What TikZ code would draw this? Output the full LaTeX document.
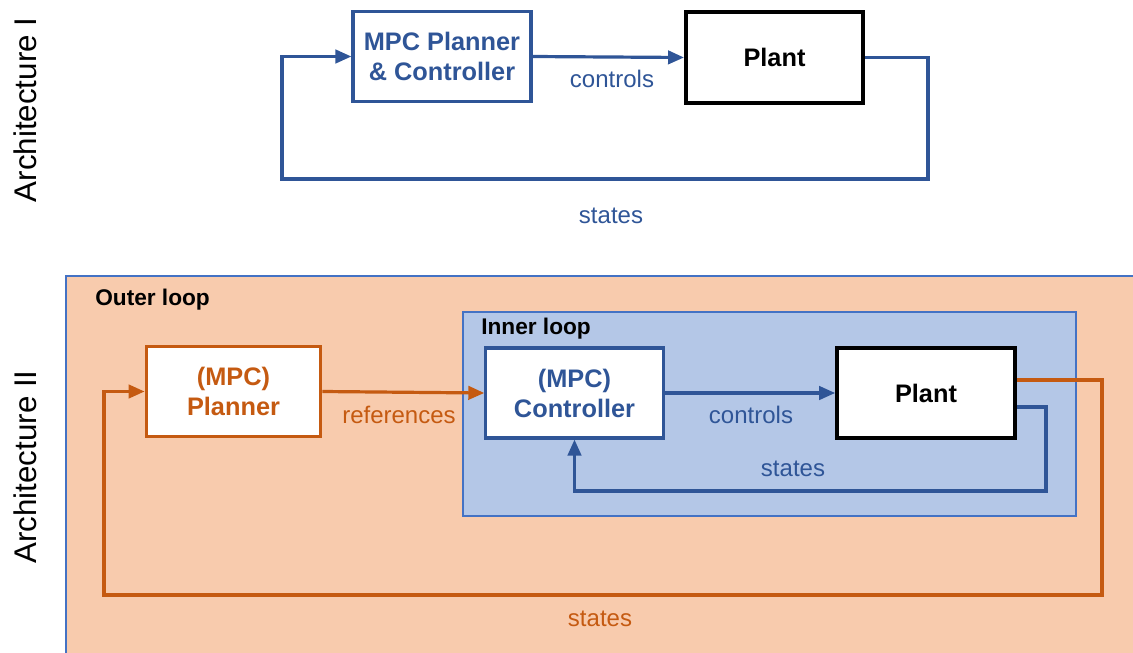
\documentclass[tikz,border=0pt]{standalone}
\usepackage{fontspec}
\setmainfont{Liberation Sans}
\usetikzlibrary{arrows.meta}
\definecolor{cblue}{HTML}{2F5597}
\definecolor{corange}{HTML}{C55A11}
\definecolor{outerfill}{HTML}{F8CBAD}
\definecolor{innerfill}{HTML}{B4C7E7}
\definecolor{frameblue}{HTML}{4472C4}
\begin{document}
\begin{tikzpicture}[x=0.75pt,y=-0.75pt,
  blockbase/.style={draw, fill=white, align=center, inner sep=0pt,
    font=\bfseries\fontsize{19}{22.5}\selectfont},
  blueblock/.style={blockbase, draw=cblue, text=cblue, line width=2.3pt},
  orangeblock/.style={blockbase, draw=corange, text=corange, line width=2.3pt},
  plantblock/.style={blockbase, draw=black, text=black, line width=2.7pt},
  lbl/.style={font=\fontsize{18}{20}\selectfont, inner sep=0pt},
  looptitle/.style={font=\bfseries\fontsize{17}{19}\selectfont, inner sep=0pt},
  archlabel/.style={font=\fontsize{23.5}{26}\selectfont, rotate=90, inner sep=0pt},
  flow/.style={line width=2.4pt, -{Triangle[length=12pt,width=10pt]}},
  flowplain/.style={line width=2.4pt}
]
\useasboundingbox (0,0) rectangle (1133,653);

% ---------- Architecture I ----------
\node[archlabel] (archI) at (25,110) {Architecture I};
\node[blueblock, minimum width=133.5pt, minimum height=68pt] (mpc1) at (442,56.5) {MPC Planner\\\& Controller};
\node[plantblock, minimum width=133pt, minimum height=68pt] (plant1) at (774.5,57.5) {Plant};
\node[lbl, text=cblue] (ctl1) at (612,79) {controls};
\node[lbl, text=cblue] (st1) at (611,216) {states};
\coordinate (t1) at (928,179);
\coordinate (t2) at (282,179);
\draw[flow, cblue] (mpc1.east) -- (plant1.west);
\draw[flow, cblue] (plant1.east) -| (t1) -- (t2) |- (mpc1.west);

% ---------- Architecture II ----------
\node[archlabel] (archII) at (25,467) {Architecture II};
\fill[outerfill] (66,276) rectangle (1133,653);
\draw[frameblue, line width=0.8pt] (1133,276) -- (66,276) -- (66,653);
\node[looptitle, anchor=west] (outerT) at (95,300) {Outer loop};
\fill[innerfill] (463,312) rectangle (1076,516);
\draw[frameblue, line width=0.8pt] (463,312) rectangle (1076,516);
\node[looptitle, anchor=west] (innerT) at (481,329) {Inner loop};

\node[orangeblock, minimum width=131pt, minimum height=68pt] (plan) at (233.5,391.5) {(MPC)\\Planner};
\node[blueblock, minimum width=133pt, minimum height=67.5pt] (ctrl) at (574.5,393) {(MPC)\\Controller};
\node[plantblock, minimum width=133.5pt, minimum height=67.5pt] (plant2) at (926,393) {Plant};

\node[lbl, text=corange] (refl) at (399,415) {references};
\node[lbl, text=cblue] (ctl2) at (751,415) {controls};
\node[lbl, text=cblue] (st2) at (793,469) {states};
\node[lbl, text=corange] (st3) at (600,619) {states};

\coordinate (i1) at (1046,491);
\coordinate (o1) at (1102,595);
\coordinate (o2) at (104,595);
\draw[flow, corange] (plan.east) -- (ctrl.west);
\draw[flow, cblue] (ctrl.east) -- (plant2.west);
\draw[flow, cblue] ([yshift=-10.5pt]plant2.east) -| (i1) -| (ctrl.south);
\draw[flow, corange] ([yshift=9.75pt]plant2.east) -| (o1) -- (o2) |- (plan.west);
\end{tikzpicture}
\end{document}
